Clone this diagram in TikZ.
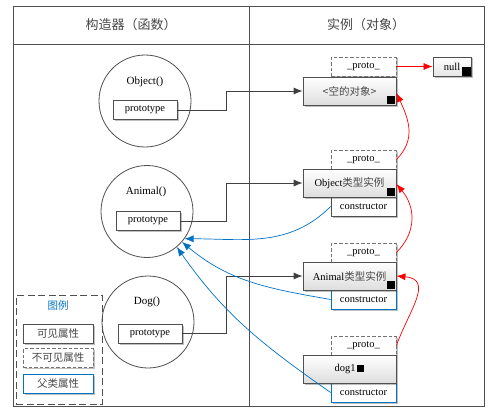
\documentclass[tikz,border=0pt]{standalone}
\usepackage{fontspec}
\setmainfont{Liberation Serif}
\newfontfamily\cjk{Noto Sans CJK SC}
\usetikzlibrary{arrows.meta,shadows}
\definecolor{frmgray}{RGB}{80,80,80}
\definecolor{lnkgray}{RGB}{64,64,64}
\definecolor{pblue}{RGB}{0,114,198}
\definecolor{cjkgray}{RGB}{70,70,70}
\newcommand{\zh}[1]{{\cjk\color{cjkgray}#1}}
\begin{document}
\begin{tikzpicture}[x=1pt,y=-1pt,font=\fontsize{10.5}{12}\selectfont,
  frm/.style={draw=frmgray,line width=0.8pt},
  shd/.style={drop shadow={shadow xshift=1.5pt,shadow yshift=-1.5pt,opacity=0.25,fill=black}},
  instbox/.style={draw=frmgray,line width=0.8pt,top color=white,bottom color=black!13,
    minimum width=93pt,minimum height=28pt,inner sep=0pt,shd},
  protobox/.style={draw=black!55,line width=0.8pt,dash pattern=on 3.5pt off 2pt,fill=white,
    minimum width=65pt,minimum height=19pt,inner sep=0pt,shd},
  consbox/.style={draw=frmgray,line width=0.8pt,fill=white,
    minimum width=65pt,minimum height=19pt,inner sep=0pt,shd},
  pconsbox/.style={consbox,draw=pblue},
  protbox/.style={draw=frmgray,line width=0.8pt,fill=white,
    minimum width=64pt,minimum height=19pt,inner sep=0pt,shd},
  circ/.style={circle,draw=frmgray,line width=0.8pt,fill=white,minimum size=92pt,inner sep=0pt},
  sq/.style={fill=black,minimum size=8.5pt,inner sep=0pt,anchor=south east},
  conn/.style={draw=lnkgray,line width=0.8pt,-{Latex[length=9pt,width=7pt]}},
  redarr/.style={draw=red,line width=0.7pt,-{Latex[length=9pt,width=7pt]}},
  bluearr/.style={draw=pblue,line width=0.7pt,-{Latex[length=9pt,width=7pt]}},
  lgbox/.style={draw=frmgray,line width=0.8pt,dash pattern=on 7pt off 3.5pt,
    minimum width=86pt,minimum height=109pt,inner sep=0pt},
  lgitem/.style={draw=frmgray,line width=0.8pt,fill=white,minimum width=70pt,minimum height=19pt,inner sep=0pt,shd},
  lbl/.style={font=\fontsize{11}{13}\selectfont}
]
\useasboundingbox (0,0) rectangle (492,412);
% frame
\draw[frm] (13,6) rectangle (484,406);
\draw[frm] (13,44) -- (484,44);
\draw[frm] (249,6) -- (249,406);
\node (h1) at (131,25) {\fontsize{13}{15}\selectfont\zh{构造器（函数）}};
\node (h2) at (366,25) {\fontsize{13}{15}\selectfont\zh{实例（对象）}};
% constructors
\node[circ] (cObj) at (145,101) {};
\node[circ] (cAni) at (147,211.5) {};
\node[circ] (cDog) at (148,322) {};
\node[lbl] (tObj) at (145,82) {Object()};
\node[lbl] (tAni) at (146,192) {Animal()};
\node[lbl] (tDog) at (147,302) {Dog()};
\node[protbox] (pObj) at (145,110) {prototype};
\node[protbox] (pAni) at (148,221) {prototype};
\node[protbox] (pDog) at (150,333.5) {prototype};
% instances
\node[protobox] (pr1) at (363.5,66.5) {\_proto\_};
\node[instbox] (empty) at (349.5,91) {\zh{<空的对象>}};
\node[sq] (s1) at ([xshift=-1pt,yshift=1pt]empty.south east) {};
\node[draw=frmgray,line width=0.8pt,top color=white,bottom color=black!10,minimum width=38pt,minimum height=19pt,inner sep=0pt,shd] (null) at (452,66.5) {null};
\node[sq] (s0) at ([xshift=-0.5pt,yshift=0.5pt]null.south east) {};

\node[protobox] (pr2) at (363.5,159.5) {\_proto\_};
\node[consbox] (cs1) at (363.5,206.5) {constructor};
\node[instbox] (objI) at (349.5,183) {Object\zh{类型实例}};
\node[sq] (s2) at ([xshift=-1pt,yshift=1pt]objI.south east) {};

\node[protobox] (pr3) at (363.5,252.5) {\_proto\_};
\node[pconsbox] (cs2) at (363.5,299.5) {constructor};
\node[instbox] (aniI) at (349.5,276) {Animal\zh{类型实例}};
\node[sq] (s3) at ([xshift=-1pt,yshift=1pt]aniI.south east) {};

\node[protobox] (pr4) at (363.5,345.5) {\_proto\_};
\node[pconsbox] (cs3) at (363.5,392.5) {constructor};
\node[instbox] (dogI) at (349.5,369) {dog1\,\rule{7pt}{7pt}};
% gray links
\coordinate (m) at (226,0);
\draw[conn] (pObj.east) -- (pObj.east -| m) |- (empty.west);
\draw[conn] (pAni.east) -- (pAni.east -| m) |- (objI.west);
\draw[conn] (pDog.east) -- (pDog.east -| m) |- (aniI.west);
% red links
\draw[redarr] (pr1.east) -- (null.west);
\draw[redarr] (pr2.east) to[out=45,in=-65,looseness=1.1] ([yshift=-2pt]empty.east);
\draw[redarr] (pr3.east) to[out=45,in=-50,looseness=1.1] ([yshift=-1pt]objI.east);
\draw[redarr] (pr4.east) to[out=70,in=-5,looseness=1.4] ([yshift=0pt]aniI.east);
% blue links
\draw[bluearr] (cs1.west) to[out=-135,in=0] (cAni.-36);
\draw[bluearr] (cs2.west) to[out=170,in=-40] (cAni.-41);
\draw[bluearr] (cs3.west) to[out=145,in=-55] (cAni.-50);
% legend
\node[lgbox] (lg) at (59,349.5) {};
\node (lgt) at (58,306) {{\cjk\color{pblue}图例}};
\node[lgitem] (lg1) at (58,333.5) {\zh{可见属性}};
\node[lgitem,dash pattern=on 3.5pt off 2pt,draw=black!55] (lg2) at (58,358) {\zh{不可见属性}};
\node[lgitem,draw=pblue] (lg3) at (58,383.5) {\zh{父类属性}};
\end{tikzpicture}
\end{document}
